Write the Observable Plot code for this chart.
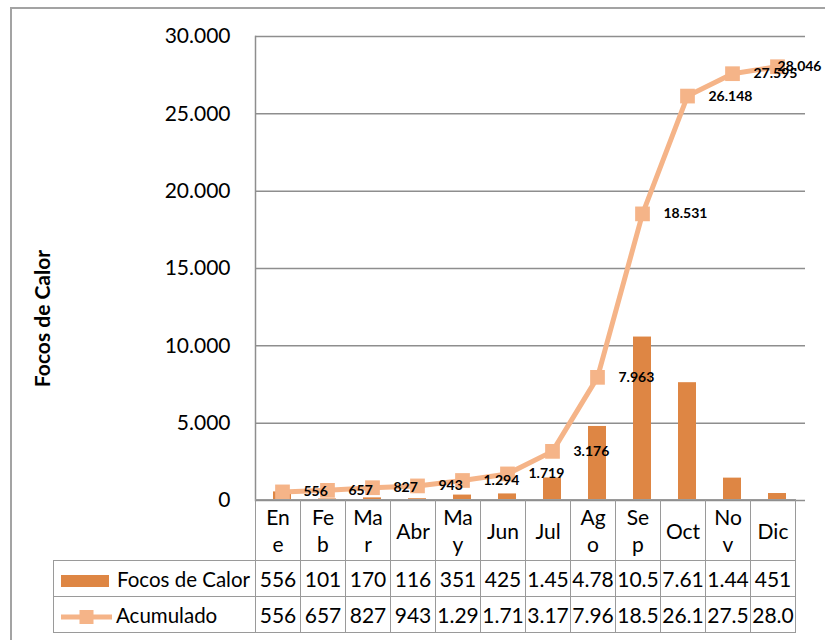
<!DOCTYPE html>
<html><head><meta charset="utf-8">
<script src="https://cdn.jsdelivr.net/npm/d3@7"></script>
<script src="https://cdn.jsdelivr.net/npm/@observablehq/plot@0.6"></script>
<style>
body{margin:0;background:#fff;font-family:Lato,sans-serif;color:#000;}
#wrap{position:relative;width:825px;height:640px;overflow:hidden;background:#fff;}
#border{position:absolute;left:10px;top:7px;width:900px;height:700px;border-left:2px solid #a3a3a3;border-top:2px solid #a3a3a3;}
#chart{position:absolute;left:0;top:0;}
table{position:absolute;left:53px;top:499px;border-collapse:collapse;table-layout:fixed;font-size:21px;font-family:Lato,sans-serif;}
td{border:1.5px solid #9a9a9a;text-align:center;padding:0;overflow:hidden;white-space:nowrap;}
td.hd{line-height:27px;}
td.lg{text-align:left;font-size:20.5px;}
td.lg svg{vertical-align:middle;margin-right:4px;}
td.blank{border-top:none;border-left:none;}
</style></head><body><div id="wrap"><div id="border"></div><div id="chart"></div><table id="tbl"></table></div>
<script>
const months = ["Ene","Feb","Mar","Abr","May","Jun","Jul","Ago","Sep","Oct","Nov","Dic"];
const focos = [556,101,170,116,351,425,1457,4787,10568,7617,1447,451];
const acumulado = [556,657,827,943,1294,1719,3176,7963,18531,26148,27595,28046];
const yTicks = [0,5000,10000,15000,20000,25000,30000];
const seriesNames = ["Focos de Calor","Acumulado"];
const yTitle = "Focos de Calor";
// month labels that appear wrapped onto two lines in the data table header
const wrappedMonths = new Set(["Ene","Feb","Mar","May","Ago","Sep","Nov"]);

const barColor = "#DE8644";
const lineColor = "#F5B488";
const gridColor = "#8e8e8e";

const fmt = d3.formatLocale({decimal:",", thousands:".", grouping:[3], currency:["",""]}).format(",d");
const data = months.map((m,i)=>({month:m, focos:focos[i], acum:acumulado[i]}));

const chart = Plot.plot({
  width: 825, height: 500,
  marginLeft: 255, marginRight: 20, marginTop: 36, marginBottom: 0,
  style: {fontFamily: "Lato, sans-serif", fontSize: "21px", background: "transparent", color: "#000", overflow: "visible"},
  x: {domain: months, paddingInner: 0.59, paddingOuter: 0.295, axis: null},
  y: {domain: [0, 30000]},
  marks: [
    Plot.gridY(yTicks, {stroke: gridColor, strokeOpacity: 1, strokeWidth: 1.5}),
    Plot.frame({anchor: "left", stroke: gridColor, strokeWidth: 1.5}),
    Plot.axisY(yTicks, {tickSize: 0, tickPadding: 25, tickFormat: fmt, label: null, fontSize: 21}),
    Plot.barY(data, {x: "month", y: "focos", fill: barColor}),
    Plot.line(data, {x: "month", y: "acum", stroke: lineColor, strokeWidth: 5}),
    Plot.dot(data, {x: "month", y: "acum", symbol: "square", r: 8.3, fill: lineColor}),
    Plot.text(data.slice(0, -1), {x: "month", y: "acum", text: d => fmt(d.acum), textAnchor: "start", dx: 21, fontWeight: "bold", fontSize: 14}),
    Plot.text(data.slice(-1), {x: "month", y: "acum", text: d => fmt(d.acum), textAnchor: "end", dx: 44, fontWeight: "bold", fontSize: 14}),
    Plot.text([yTitle], {text: d => d, frameAnchor: "left", textAnchor: "middle", rotate: -90, dx: -212, dy: 50, fontWeight: "bold", fontSize: 21})
  ]
});
document.getElementById("chart").appendChild(chart);

// data table below the chart, columns aligned to the x band scale
const xs = chart.scale("x");
const step = xs.step || (xs.range[1] - xs.range[0]) / months.length;
const firstW = xs.range[0] - 53;
let html = `<colgroup><col style="width:${firstW}px">` + months.map(() => `<col style="width:${step}px">`).join("") + `</colgroup>`;
html += `<tr style="height:61px"><td class="blank"></td>` + months.map(m => `<td class="hd">${wrappedMonths.has(m) ? m.slice(0,2) + "<br>" + m.slice(2) : m}</td>`).join("") + `</tr>`;
const swatchBar = `<svg width="52" height="14" style="margin-left:7px"><rect x="0" y="1" width="48" height="12" fill="${barColor}"/></svg>`;
const swatchLine = `<svg width="52" height="16" style="margin-left:6px"><line x1="1" y1="8" x2="52" y2="8" stroke="${lineColor}" stroke-width="5"/><rect x="19.5" y="1" width="14" height="14" fill="${lineColor}"/></svg>`;
html += `<tr style="height:36px"><td class="lg">${swatchBar}${seriesNames[0]}</td>` + focos.map(v => `<td>${fmt(v).slice(0,4)}</td>`).join("") + `</tr>`;
html += `<tr style="height:36px"><td class="lg">${swatchLine}${seriesNames[1]}</td>` + acumulado.map(v => `<td>${fmt(v).slice(0,4)}</td>`).join("") + `</tr>`;
document.getElementById("tbl").innerHTML = html;
</script></body></html>
